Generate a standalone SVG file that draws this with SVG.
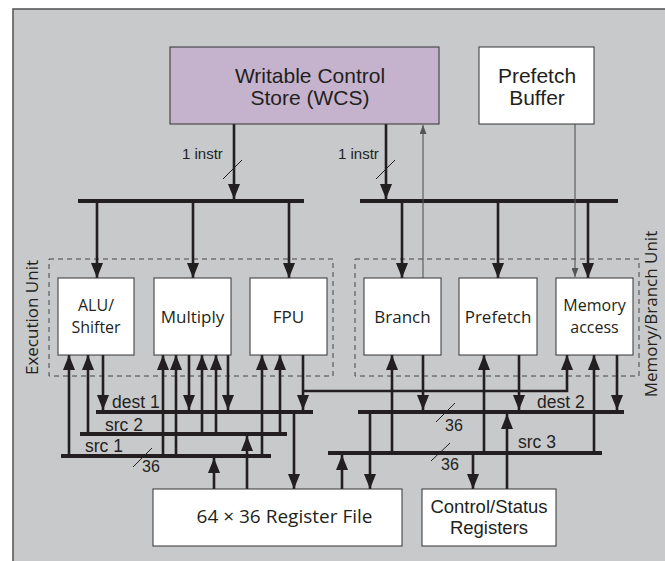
<svg xmlns="http://www.w3.org/2000/svg" width="665" height="561" viewBox="0 0 665 561">
<style>
.bg{fill:#c8c9cb;stroke:#5a5a5a;stroke-width:1.6}
.box{fill:#fff;stroke:#333;stroke-width:1}
.wcs{fill:#c5b3cd;stroke:#333;stroke-width:1}
.dash{fill:none;stroke:#444;stroke-width:1;stroke-dasharray:5 4}
.h{font-family:"Liberation Sans",Arial,sans-serif;fill:#231f20}
.f{font-family:"Open Sans","DejaVu Sans",sans-serif;fill:#231f20}
.bus{stroke:#231f20;stroke-width:4;fill:none}
.w{stroke:#231f20;stroke-width:2.6;fill:none}
.wa{stroke:#231f20;stroke-width:2.6;fill:none;marker-end:url(#ah)}
.ta{stroke:#555;stroke-width:1.1;fill:none;marker-end:url(#ahs)}
.sl{stroke:#231f20;stroke-width:1}
</style>
<defs>
<marker id="ah" markerWidth="15" markerHeight="12" refX="15" refY="6" orient="auto" markerUnits="userSpaceOnUse"><path d="M0,0 L15,6 L0,12 z" fill="#231f20"/></marker>
<marker id="ahs" markerWidth="9" markerHeight="7" refX="9" refY="3.5" orient="auto" markerUnits="userSpaceOnUse"><path d="M0,0 L9,3.5 L0,7 z" fill="#555"/></marker>
</defs>
<rect x="0" y="0" width="665" height="561" fill="#fff"/>
<rect class="bg" x="13" y="9" width="670" height="570"/>

<g id="execution-unit">
<rect class="dash" x="49" y="259" width="284" height="117"/>
<text class="f" font-size="17" text-anchor="middle" transform="translate(38,317.5) rotate(-90)">Execution Unit</text>
</g>
<g id="memory-branch-unit">
<rect class="dash" x="355" y="259" width="284" height="117"/>
<text class="f" font-size="17" text-anchor="middle" transform="translate(657,314) rotate(-90)">Memory/Branch Unit</text>
</g>

<g id="connectors">
<path class="bus" d="M78,201 H304"/>
<path class="bus" d="M360,201 H618"/>
<path class="wa" d="M234,124 V199"/>
<path class="wa" d="M386,124 V199"/>
<line class="sl" x1="223" y1="179" x2="242" y2="160"/>
<line class="sl" x1="376" y1="179" x2="395" y2="160"/>
<text class="h" font-size="15" x="182" y="159">1 instr</text>
<text class="h" font-size="15" x="338" y="159">1 instr</text>
<path class="wa" d="M97,201 V278"/>
<path class="wa" d="M193,201 V278"/>
<path class="wa" d="M289,201 V278"/>
<path class="wa" d="M402,201 V278"/>
<path class="wa" d="M498,201 V278"/>
<path class="wa" d="M588,201 V278"/>
<path class="ta" d="M423,278 V125"/>
<path class="ta" d="M575,124 V277"/>
<path class="bus" d="M96,412 H313"/>
<path class="bus" d="M80,434 H287"/>
<path class="bus" d="M61,456 H271"/>
<path class="bus" d="M358,412 H624"/>
<path class="bus" d="M328,453 H602"/>
<text class="h" font-size="17.5" x="112" y="408">dest 1</text>
<text class="h" font-size="17.5" x="105" y="431">src 2</text>
<text class="h" font-size="17.5" x="85" y="452">src 1</text>
<line class="sl" x1="133" y1="467" x2="152" y2="448"/>
<text class="h" font-size="16" x="142" y="472">36</text>
<text class="h" font-size="17.5" x="537" y="408">dest 2</text>
<text class="h" font-size="17.5" x="518" y="448">src 3</text>
<line class="sl" x1="436" y1="422" x2="455" y2="403"/>
<text class="h" font-size="16" x="445" y="431">36</text>
<line class="sl" x1="431" y1="461" x2="450" y2="443"/>
<text class="h" font-size="16" x="441" y="470">36</text>
<path class="wa" d="M69,456 V355"/>
<path class="wa" d="M88,434 V355"/>
<path class="wa" d="M103,355 V410"/>
<path class="wa" d="M163,456 V355"/>
<path class="wa" d="M176,456 V355"/>
<path class="wa" d="M189,355 V410"/>
<path class="wa" d="M202,434 V355"/>
<path class="wa" d="M216,434 V355"/>
<path class="wa" d="M228,355 V410"/>
<path class="wa" d="M262,456 V355"/>
<path class="wa" d="M280,434 V355"/>
<path class="wa" d="M303,355 V410"/>
<path class="wa" d="M303,391 H567 V355"/>
<path class="wa" d="M214,489 V458"/>
<path class="wa" d="M247,489 V436"/>
<path class="wa" d="M294,412 V489"/>
<path class="wa" d="M342,489 V455"/>
<path class="wa" d="M370,412 V489"/>
<path class="wa" d="M392,453 V355"/>
<path class="wa" d="M423,355 V410"/>
<path class="wa" d="M484,453 V355"/>
<path class="wa" d="M519,355 V410"/>
<path class="wa" d="M594,453 V355"/>
<path class="wa" d="M617,355 V410"/>
<path class="wa" d="M473,453 V489"/>
<path class="wa" d="M507,489 V414"/>
</g>

<g id="wcs">
<rect class="wcs" x="170" y="47" width="269" height="77"/>
<text class="h" font-size="21" text-anchor="middle" x="310" y="83">Writable Control</text>
<text class="h" font-size="21" text-anchor="middle" x="310" y="105">Store (WCS)</text>
</g>
<g id="prefetch-buffer">
<rect class="box" x="479" y="47" width="115" height="77"/>
<text class="h" font-size="21" text-anchor="middle" x="537" y="83">Prefetch</text>
<text class="h" font-size="21" text-anchor="middle" x="537" y="105">Buffer</text>
</g>
<g id="alu">
<rect class="box" x="58" y="278" width="76" height="77"/>
<text class="f" font-size="16" text-anchor="middle" x="96" y="311">ALU/</text>
<text class="f" font-size="16" text-anchor="middle" x="96" y="333">Shifter</text>
</g>
<g id="multiply">
<rect class="box" x="154" y="278" width="77" height="77"/>
<text class="f" font-size="17" text-anchor="middle" x="192.5" y="323">Multiply</text>
</g>
<g id="fpu">
<rect class="box" x="250" y="278" width="77" height="77"/>
<text class="f" font-size="17" text-anchor="middle" x="288.5" y="323">FPU</text>
</g>
<g id="branch">
<rect class="box" x="364" y="278" width="77" height="77"/>
<text class="f" font-size="17" text-anchor="middle" x="402.5" y="323">Branch</text>
</g>
<g id="prefetch">
<rect class="box" x="459" y="278" width="78" height="77"/>
<text class="f" font-size="17" text-anchor="middle" x="498" y="323">Prefetch</text>
</g>
<g id="memory-access">
<rect class="box" x="556" y="278" width="77" height="77"/>
<text class="f" font-size="16" text-anchor="middle" x="594.5" y="311">Memory</text>
<text class="f" font-size="16" text-anchor="middle" x="594.5" y="333">access</text>
</g>
<g id="register-file">
<rect class="box" x="153" y="489" width="249" height="57"/>
<text class="f" font-size="19" text-anchor="middle" x="284.5" y="523">64 × 36 Register File</text>
</g>
<g id="csr">
<rect class="box" x="422" y="489" width="134" height="57"/>
<text class="h" font-size="18.5" text-anchor="middle" x="489" y="513">Control/Status</text>
<text class="h" font-size="18.5" text-anchor="middle" x="489" y="534">Registers</text>
</g>
</svg>
